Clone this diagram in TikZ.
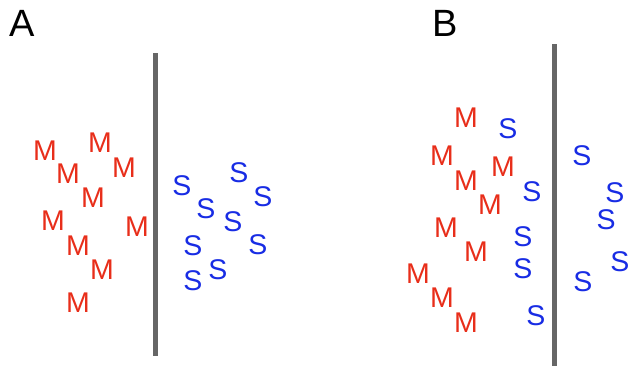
\documentclass[tikz,border=0pt]{standalone}
\usepackage{fontspec}
\setmainfont{Liberation Sans}
\definecolor{mred}{RGB}{232,46,26}
\definecolor{sblue}{RGB}{24,44,228}
\definecolor{wallgray}{RGB}{102,102,102}
\tikzset{
  ml/.style={inner sep=0pt, text=mred, font=\fontsize{28.5}{28.5}\selectfont},
  sl/.style={inner sep=0pt, text=sblue, font=\fontsize{28.5}{28.5}\selectfont},
  panel/.style={inner sep=0pt, text=black, font=\fontsize{38}{38}\selectfont},
  wall/.style={line width=5pt, draw=wallgray}
}
\begin{document}
\begin{tikzpicture}[x=1pt,y=-1pt]
\useasboundingbox (0,0) rectangle (630,368);
% labels
\node[panel] (lA) at (22.5,23.5) {A};
\node[panel] (lB) at (445,23.5) {B};
% walls
\coordinate (wa1) at (155,53);
\coordinate (wa2) at (155,356);
\coordinate (wb1) at (554,44);
\coordinate (wb2) at (554,366);
\draw[wall] (wa1) -- (wa2);
\draw[wall] (wb1) -- (wb2);
% panel A: M
\node[ml] (am1) at (45,151) {M};
\node[ml] (am2) at (100,143) {M};
\node[ml] (am3) at (68,174) {M};
\node[ml] (am4) at (124,168) {M};
\node[ml] (am5) at (93,198) {M};
\node[ml] (am6) at (53,221) {M};
\node[ml] (am7) at (137,227) {M};
\node[ml] (am8) at (78,246) {M};
\node[ml] (am9) at (102,270) {M};
\node[ml] (am10) at (78,303) {M};
% panel A: S
\node[sl] (as1) at (182,186) {S};
\node[sl] (as2) at (239,173) {S};
\node[sl] (as3) at (263,197) {S};
\node[sl] (as4) at (206,209) {S};
\node[sl] (as5) at (233,222) {S};
\node[sl] (as6) at (193,246) {S};
\node[sl] (as7) at (258,245) {S};
\node[sl] (as8) at (218,270) {S};
\node[sl] (as9) at (193,281) {S};
% panel B: M
\node[ml] (bm1) at (466,118) {M};
\node[ml] (bm2) at (442,156) {M};
\node[ml] (bm3) at (503,167) {M};
\node[ml] (bm4) at (466,181) {M};
\node[ml] (bm5) at (490,205) {M};
\node[ml] (bm6) at (446,228) {M};
\node[ml] (bm7) at (476,252) {M};
\node[ml] (bm8) at (418,274) {M};
\node[ml] (bm9) at (442,298) {M};
\node[ml] (bm10) at (466,323) {M};
% panel B: S
\node[sl] (bs1) at (508,129) {S};
\node[sl] (bs2) at (582,156) {S};
\node[sl] (bs3) at (532,192) {S};
\node[sl] (bs4) at (615,193) {S};
\node[sl] (bs5) at (606,220) {S};
\node[sl] (bs6) at (523,237) {S};
\node[sl] (bs7) at (523,269) {S};
\node[sl] (bs8) at (620,262) {S};
\node[sl] (bs9) at (583,282) {S};
\node[sl] (bs10) at (536,316) {S};
\end{tikzpicture}
\end{document}
